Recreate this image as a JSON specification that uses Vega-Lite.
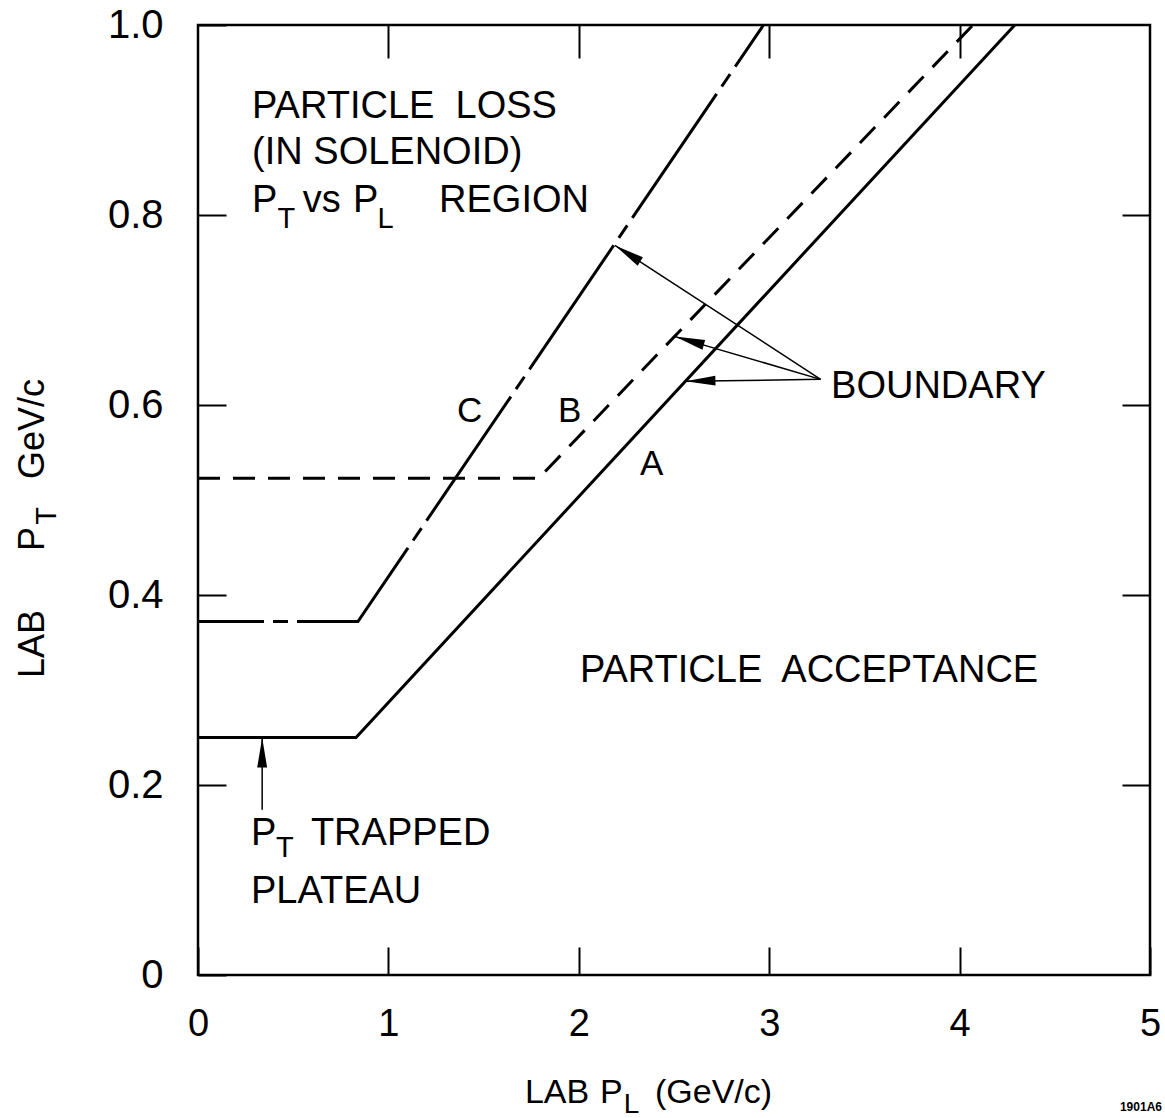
{
  "$schema": "https://vega.github.io/schema/vega-lite/v6.json",
  "width": 952,
  "height": 950,
  "autosize": {"type": "none"},
  "padding": {"left": 198, "top": 25, "right": 15, "bottom": 143},
  "background": "white",
  "config": {
    "view": {"stroke": "black", "strokeWidth": 2.5},
    "font": "Liberation Sans",
    "axis": {"domain": false, "grid": false, "tickColor": "black", "tickWidth": 2, "labelColor": "black", "labelFont": "Liberation Sans", "labelOverlap": false, "labelFlush": false}
  },
  "datasets": {
    "curveA": [{"x": 0, "y": 0.25}, {"x": 0.83, "y": 0.25}, {"x": 4.29, "y": 1.0}],
    "curveB": [{"x": 0, "y": 0.523}, {"x": 1.79, "y": 0.523}, {"x": 4.07, "y": 1.0}],
    "curveC": [{"x": 0, "y": 0.372}, {"x": 0.84, "y": 0.372}, {"x": 2.97, "y": 1.0}],
    "arrows": [
      {"target": "C", "x": 3.27, "y": 0.627, "x2": 2.19, "y2": 0.768},
      {"target": "B", "x": 3.27, "y": 0.627, "x2": 2.505, "y2": 0.672},
      {"target": "A", "x": 3.27, "y": 0.627, "x2": 2.56, "y2": 0.625},
      {"target": "plateau", "x": 0.337, "y": 0.174, "x2": 0.337, "y2": 0.25}
    ],
    "notes": [
      {"x": 0.284, "y": 0.902, "label": "PARTICLE\u00a0 LOSS"},
      {"x": 0.284, "y": 0.854, "label": "(IN SOLENOID)"},
      {"x": 0.284, "y": 0.803, "label": "P"},
      {"x": 0.55, "y": 0.803, "label": "vs"},
      {"x": 0.814, "y": 0.803, "label": "P"},
      {"x": 1.266, "y": 0.803, "label": "REGION"},
      {"x": 2.006, "y": 0.308, "label": "PARTICLE\u00a0 ACCEPTANCE"},
      {"x": 3.325, "y": 0.607, "label": "BOUNDARY"},
      {"x": 0.278, "y": 0.137, "label": "P"},
      {"x": 0.593, "y": 0.137, "label": "TRAPPED"},
      {"x": 0.278, "y": 0.076, "label": "PLATEAU"}
    ],
    "subs": [
      {"x": 0.418, "y": 0.786, "label": "T"},
      {"x": 0.943, "y": 0.786, "label": "L"},
      {"x": 0.41, "y": 0.124, "label": "T"}
    ],
    "letters": [
      {"x": 1.36, "y": 0.582, "label": "C"},
      {"x": 1.891, "y": 0.582, "label": "B"},
      {"x": 2.321, "y": 0.526, "label": "A"}
    ],
    "ytitle": [
      {"x": -0.81, "y": 0.3126, "label": "LAB"},
      {"x": -0.81, "y": 0.4463, "label": "P"},
      {"x": -0.81, "y": 0.522, "label": "GeV/c"}
    ],
    "ytitleSub": [{"x": -0.745, "y": 0.474, "label": "T"}],
    "xtitle": [
      {"x": 1.717, "y": -0.1347, "label": "LAB"},
      {"x": 2.111, "y": -0.1347, "label": "P"},
      {"x": 2.4, "y": -0.1347, "label": "(GeV/c)"}
    ],
    "xtitleSub": [{"x": 2.236, "y": -0.1455, "label": "L"}],
    "stamp": [{"x": 5.063, "y": -0.143, "label": "1901A6"}]
  },
  "layer": [
    {
      "data": {"name": "curveA"},
      "mark": {"type": "line", "color": "black", "strokeWidth": 3},
      "encoding": {
        "x": {"field": "x", "type": "quantitative", "scale": {"domain": [0, 5], "nice": false, "zero": false},
              "axis": {"orient": "bottom", "values": [0, 1, 2, 3, 4, 5], "tickSize": -28, "labelPadding": 58, "labelFontSize": 38, "format": "d", "title": null}},
        "y": {"field": "y", "type": "quantitative", "scale": {"domain": [0, 1], "nice": false, "zero": false},
              "axis": {"orient": "left", "values": [0, 0.2, 0.4, 0.6, 0.8, 1.0], "tickSize": -28, "labelPadding": 63, "labelFontSize": 40, "labelExpr": "datum.value == 0 ? '0' : format(datum.value, '.1f')", "title": null}}
      }
    },
    {
      "data": {"name": "curveB"},
      "mark": {"type": "line", "color": "black", "strokeWidth": 3, "strokeDash": [22, 13]},
      "encoding": {
        "x": {"field": "x", "type": "quantitative",
              "axis": {"orient": "top", "values": [1, 2, 3, 4], "tickSize": -33, "labels": false, "title": null}},
        "y": {"field": "y", "type": "quantitative",
              "axis": {"orient": "right", "values": [0.2, 0.4, 0.6, 0.8], "tickSize": -28, "labels": false, "title": null}}
      }
    },
    {
      "data": {"name": "curveC"},
      "mark": {"type": "line", "color": "black", "strokeWidth": 3, "strokeDash": [150, 9, 15, 9], "strokeDashOffset": 84},
      "encoding": {
        "x": {"field": "x", "type": "quantitative", "axis": null},
        "y": {"field": "y", "type": "quantitative", "axis": null}
      }
    },
    {
      "data": {"name": "arrows"},
      "mark": {"type": "rule", "color": "black", "strokeWidth": 1.5},
      "encoding": {
        "x": {"field": "x", "type": "quantitative", "axis": null},
        "y": {"field": "y", "type": "quantitative", "axis": null},
        "x2": {"field": "x2"},
        "y2": {"field": "y2"}
      }
    },
    {
      "data": {"name": "arrows"},
      "transform": [{"filter": "datum.target == 'C'"}],
      "mark": {"type": "point", "shape": "M0,0L-0.33,2L0.33,2Z", "size": 900, "filled": true, "color": "black", "opacity": 1, "angle": 302.5},
      "encoding": {
        "x": {"field": "x2", "type": "quantitative", "axis": null},
        "y": {"field": "y2", "type": "quantitative", "axis": null}
      }
    },
    {
      "data": {"name": "arrows"},
      "transform": [{"filter": "datum.target == 'B'"}],
      "mark": {"type": "point", "shape": "M0,0L-0.33,2L0.33,2Z", "size": 900, "filled": true, "color": "black", "opacity": 1, "angle": 286},
      "encoding": {
        "x": {"field": "x2", "type": "quantitative", "axis": null},
        "y": {"field": "y2", "type": "quantitative", "axis": null}
      }
    },
    {
      "data": {"name": "arrows"},
      "transform": [{"filter": "datum.target == 'A'"}],
      "mark": {"type": "point", "shape": "M0,0L-0.33,2L0.33,2Z", "size": 900, "filled": true, "color": "black", "opacity": 1, "angle": 268.8},
      "encoding": {
        "x": {"field": "x2", "type": "quantitative", "axis": null},
        "y": {"field": "y2", "type": "quantitative", "axis": null}
      }
    },
    {
      "data": {"name": "arrows"},
      "transform": [{"filter": "datum.target == 'plateau'"}],
      "mark": {"type": "point", "shape": "M0,0L-0.33,2L0.33,2Z", "size": 900, "filled": true, "color": "black", "opacity": 1, "angle": 0},
      "encoding": {
        "x": {"field": "x2", "type": "quantitative", "axis": null},
        "y": {"field": "y2", "type": "quantitative", "axis": null}
      }
    },
    {
      "data": {"name": "notes"},
      "mark": {"type": "text", "align": "left", "baseline": "alphabetic", "fontSize": 38, "color": "black"},
      "encoding": {
        "x": {"field": "x", "type": "quantitative", "axis": null},
        "y": {"field": "y", "type": "quantitative", "axis": null},
        "text": {"field": "label"}
      }
    },
    {
      "data": {"name": "subs"},
      "mark": {"type": "text", "align": "left", "baseline": "alphabetic", "fontSize": 29, "color": "black"},
      "encoding": {
        "x": {"field": "x", "type": "quantitative", "axis": null},
        "y": {"field": "y", "type": "quantitative", "axis": null},
        "text": {"field": "label"}
      }
    },
    {
      "data": {"name": "letters"},
      "mark": {"type": "text", "align": "left", "baseline": "alphabetic", "fontSize": 35, "color": "black"},
      "encoding": {
        "x": {"field": "x", "type": "quantitative", "axis": null},
        "y": {"field": "y", "type": "quantitative", "axis": null},
        "text": {"field": "label"}
      }
    },
    {
      "data": {"name": "ytitle"},
      "mark": {"type": "text", "align": "left", "baseline": "alphabetic", "fontSize": 36, "angle": 270, "color": "black"},
      "encoding": {
        "x": {"field": "x", "type": "quantitative", "axis": null},
        "y": {"field": "y", "type": "quantitative", "axis": null},
        "text": {"field": "label"}
      }
    },
    {
      "data": {"name": "ytitleSub"},
      "mark": {"type": "text", "align": "left", "baseline": "alphabetic", "fontSize": 29, "angle": 270, "color": "black"},
      "encoding": {
        "x": {"field": "x", "type": "quantitative", "axis": null},
        "y": {"field": "y", "type": "quantitative", "axis": null},
        "text": {"field": "label"}
      }
    },
    {
      "data": {"name": "xtitle"},
      "mark": {"type": "text", "align": "left", "baseline": "alphabetic", "fontSize": 34, "color": "black"},
      "encoding": {
        "x": {"field": "x", "type": "quantitative", "axis": null},
        "y": {"field": "y", "type": "quantitative", "axis": null},
        "text": {"field": "label"}
      }
    },
    {
      "data": {"name": "xtitleSub"},
      "mark": {"type": "text", "align": "left", "baseline": "alphabetic", "fontSize": 28, "color": "black"},
      "encoding": {
        "x": {"field": "x", "type": "quantitative", "axis": null},
        "y": {"field": "y", "type": "quantitative", "axis": null},
        "text": {"field": "label"}
      }
    },
    {
      "data": {"name": "stamp"},
      "mark": {"type": "text", "align": "right", "baseline": "alphabetic", "fontSize": 12, "fontWeight": "bold", "color": "black"},
      "encoding": {
        "x": {"field": "x", "type": "quantitative", "axis": null},
        "y": {"field": "y", "type": "quantitative", "axis": null},
        "text": {"field": "label"}
      }
    }
  ],
  "resolve": {"axis": {"x": "independent", "y": "independent"}}
}
